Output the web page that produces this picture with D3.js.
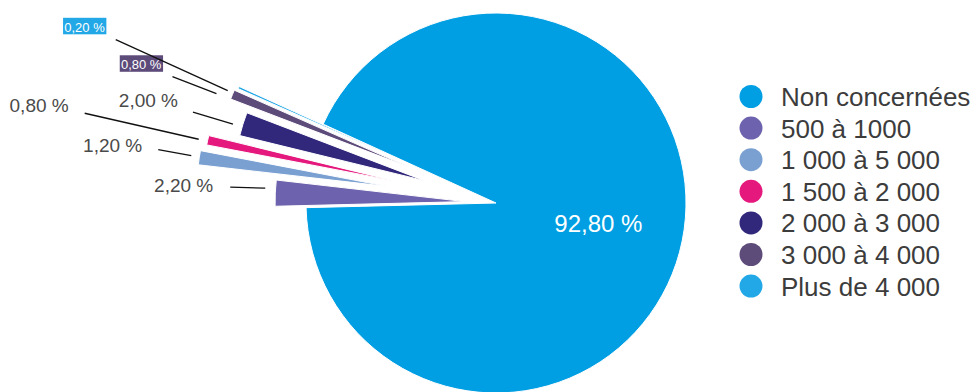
<!DOCTYPE html>
<html lang="fr">
<head>
<meta charset="utf-8">
<script src="https://cdn.jsdelivr.net/npm/d3@7"></script>
<style>
  html, body { margin: 0; padding: 0; background: #fff; }
  svg { display: block; font-family: "Liberation Sans", Arial, Helvetica, sans-serif; }
</style>
</head>
<body>
<svg id="chart" width="980" height="392"></svg>
<script>
// Répartition des communes (en %)
const categories = ["Non concernées", "500 à 1000", "1 000 à 5 000", "1 500 à 2 000",
                    "2 000 à 3 000", "3 000 à 4 000", "Plus de 4 000"];
const shares = [92.8, 2.2, 1.2, 0.8, 2.0, 0.8, 0.2];

// Styling
const colors = ["#009FE3", "#6C62AD", "#7AA0D2", "#E5197D", "#31287C", "#5D4B7A", "#22A8E6"];
const explode = [0, 0.163, 0.58, 0.553, 0.395, 0.5, 0.484];   // fraction of radius
// callout layout, relative to the outer edge of each exploded slice:
// line end, line start, label anchor (right edge, baseline), boxed label or not
const callouts = [
  null,
  { end: [-10, -5], start: [-45, -6],   text: [-62, -1],   box: false },
  { end: [-8, -2],  start: [-41, -8],   text: [-57, -6],   box: false },
  { end: [-9, -1],  start: [-123, -27], text: [-139, -28], box: false },
  { end: [-10, 0],  start: [-50, -12],  text: [-65, -17],  box: false },
  { end: [-16, -1], start: [-60, -18],  text: [-70, -25.5], box: true },
  { end: [-11, 3],  start: [-123, -48], text: [-133, -56], box: true }
];

const fr = d3.formatLocale({ decimal: ",", thousands: "\u00a0", grouping: [3], currency: ["", " €"] });
const pct = v => fr.format(".2f")(v) + " %";

const svg = d3.select("#chart");
const cx = 496, cy = 203, R = 190;
const startDeg = 268.6 + 25.92;   // small slices sit just above the 9 o'clock line

const pie = d3.pie().sort(null).value(d => d)
  .startAngle(startDeg * Math.PI / 180)
  .endAngle(startDeg * Math.PI / 180 + 2 * Math.PI);
const arcs = pie(shares);
const arc = d3.arc().innerRadius(0).outerRadius(R);

const dirOf = a => [Math.sin(a), -Math.cos(a)];

const g = svg.append("g").attr("transform", `translate(${cx},${cy})`);

g.selectAll("path.slice")
  .data(arcs)
  .join("path")
  .attr("class", "slice")
  .attr("d", arc)
  .attr("fill", (d, i) => colors[i])
  .attr("stroke", "#fff")
  .attr("stroke-width", 1)
  .attr("stroke-linejoin", "miter")
  .attr("transform", (d, i) => {
    const m = (d.startAngle + d.endAngle) / 2;
    const [ux, uy] = dirOf(m);
    const off = explode[i] * R;
    return `translate(${ux * off},${uy * off})`;
  });

// main value label inside the large slice
const big = arcs[0];
{
  const m = (big.startAngle + big.endAngle) / 2;
  const [ux, uy] = dirOf(m);
  g.append("text")
    .attr("x", ux * R * 0.55)
    .attr("y", uy * R * 0.55)
    .attr("dy", "0.35em")
    .attr("text-anchor", "middle")
    .attr("fill", "#fff")
    .attr("font-size", 24)
    .text(pct(shares[0]));
}

// callouts for the small slices
arcs.forEach((d, i) => {
  const c = callouts[i];
  if (!c) return;
  const m = (d.startAngle + d.endAngle) / 2;
  const [ux, uy] = dirOf(m);
  const dist = R * (1 + explode[i]);
  const ox = ux * dist, oy = uy * dist;

  g.append("line")
    .attr("x1", ox + c.start[0]).attr("y1", oy + c.start[1])
    .attr("x2", ox + c.end[0]).attr("y2", oy + c.end[1])
    .attr("stroke", "#111").attr("stroke-width", 1.3);

  const tx = ox + c.text[0], ty = oy + c.text[1];
  if (c.box) {
    const t = g.append("text")
      .attr("x", tx - 1).attr("y", ty)
      .attr("text-anchor", "end")
      .attr("fill", "#fff")
      .attr("font-size", 13)
      .text(pct(shares[i]));
    const bb = t.node().getBBox();
    g.insert("rect", () => t.node())
      .attr("x", bb.x - 1.2).attr("y", ty - 13.8)
      .attr("width", bb.width + 2.4).attr("height", 16.5)
      .attr("fill", colors[i]);
  } else {
    g.append("text")
      .attr("x", tx).attr("y", ty)
      .attr("text-anchor", "end")
      .attr("fill", "#4a4a4a")
      .attr("font-size", 19)
      .text(pct(shares[i]));
  }
});

// legend
const legend = svg.append("g").attr("transform", "translate(751,96.5)");
const item = legend.selectAll("g")
  .data(categories)
  .join("g")
  .attr("transform", (d, i) => `translate(0,${i * 31.6})`);
item.append("circle").attr("r", 11.5).attr("fill", (d, i) => colors[i]);
item.append("text")
  .attr("x", 30).attr("y", 9.5)
  .attr("fill", "#3c3c3c")
  .attr("font-size", 26)
  .text(d => d);
</script>
</body>
</html>
